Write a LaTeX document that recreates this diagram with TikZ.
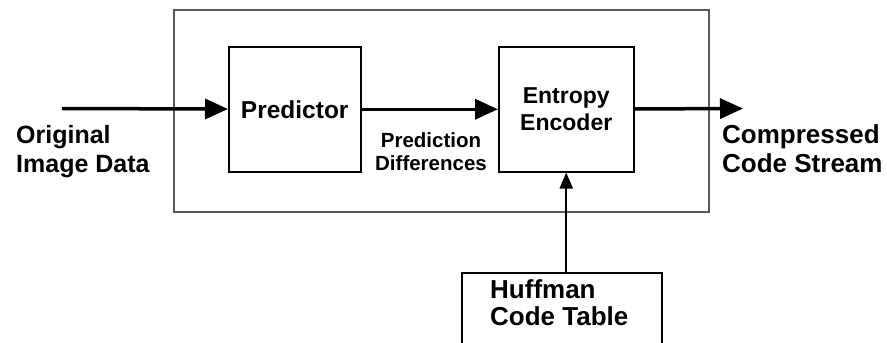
\documentclass[tikz,border=0pt]{standalone}
\usepackage{fontspec}
\setmainfont{Liberation Sans}
\usetikzlibrary{arrows.meta}
\begin{document}
\begin{tikzpicture}[x=1pt,y=-1pt,
  frame/.style={draw=black!65, line width=2pt, inner sep=0pt, anchor=north west},
  block/.style={draw=black, line width=1.5pt, inner sep=0pt, anchor=north west,
    font=\bfseries, align=center},
  caption/.style={font=\bfseries, inner sep=0pt, anchor=base west, align=left},
  flow/.style={line width=3.5pt, -{Triangle[length=23pt,width=20pt]}},
  feed/.style={line width=2pt, -{Triangle[length=16pt,width=13pt]}}
]
\useasboundingbox (0,0) rectangle (887,343);
\clip (0,0) rectangle (887,343);

% enclosing frame of the coder
\node (coder) [frame, minimum width=535pt, minimum height=202pt] at (173,9) {};

% processing blocks
\node (pred) [block, minimum width=132pt, minimum height=125pt,
  font=\bfseries\fontsize{24.5}{28}\selectfont] at (228,46) {Predictor};
\node (enc) [block, minimum width=135pt, minimum height=125pt,
  font=\bfseries\fontsize{23}{27}\selectfont] at (498,46) {Entropy\\Encoder};

% table block, open at the lower edge
\node (huff) [block, minimum width=200pt, minimum height=120pt] at (461,272) {};
% (base anchor of a multi-line node sits on its last line)
\node (hufftxt) [caption, font=\bfseries\fontsize{26}{27}\selectfont] at (490,325)
  {Huffman\\Code Table};

% outer labels
\node (orig) [caption, font=\bfseries\fontsize{25}{29}\selectfont] at (16,172)
  {Original\\Image Data};
\node (comp) [caption, font=\bfseries\fontsize{26}{29}\selectfont] at (722,172)
  {Compressed\\Code Stream};
\node (diff) [caption, anchor=base, align=center,
  font=\bfseries\fontsize{20.5}{23}\selectfont] at (431,170)
  {Prediction\\Differences};

% data flow
\coordinate (src) at (62,108.5);
\coordinate (dst) at (743,108.5);
\draw[flow] (src) -- (pred);
\draw[flow] (pred) -- (enc);
\draw[flow] (enc) -- (dst);
\draw[feed] (huff.north -| enc.south) -- (enc.south);
\end{tikzpicture}
\end{document}
